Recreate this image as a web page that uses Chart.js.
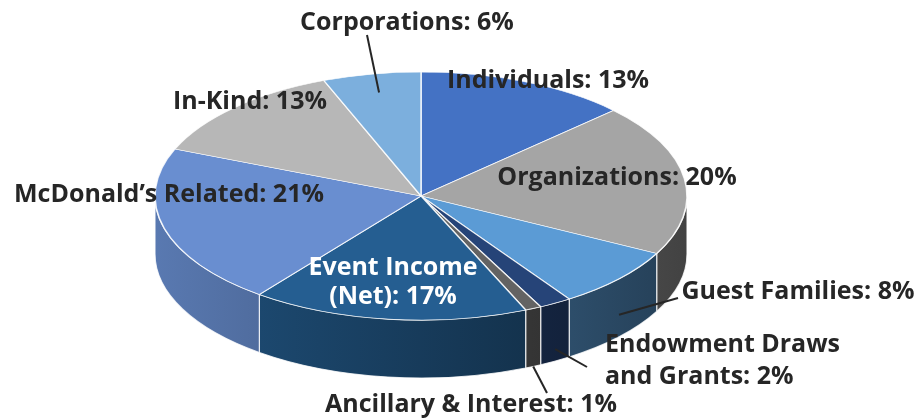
<!DOCTYPE html>
<html>
<head>
<meta charset="utf-8">
<script src="https://cdn.jsdelivr.net/npm/chart.js@4.4.1/dist/chart.umd.min.js"></script>
<style>
  html, body { margin: 0; padding: 0; background: #fff; }
  #wrap { width: 918px; height: 418px; }
</style>
</head>
<body>
<div id="wrap"><canvas id="pieChart" width="918" height="418"></canvas></div>
<script>
const categories = ["Individuals", "Organizations", "Guest Families", "Endowment Draws and Grants",
  "Ancillary & Interest", "Event Income (Net)", "McDonald\u2019s Related", "In-Kind", "Corporations"];
const shares = [13, 20, 8, 2, 1, 17, 21, 13, 6];
const sliceColors = ["#4472C4", "#A5A5A5", "#5B9BD5", "#264478", "#636363",
  "#255E91", "#698ED0", "#B7B7B7", "#7CAFDD"];

// label placement (layout only) - same order as categories
const labelLayout = [
  { x: 548, y: 81, align: "center" },
  { x: 617, y: 178, align: "center" },
  { x: 798, y: 292, align: "center", leader: [1.0, 36, 678, 298] },
  { x: 605, y: 345, align: "left", breakAt: 2, gap: 32, leader: [1.0, 46, 587, 367] },
  { x: 471, y: 405, align: "center", leader: [1.0, 58, 547, 393] },
  { x: 393, y: 268, align: "center", breakAt: 2, gap: 29, color: "#ffffff" },
  { x: 169, y: 195, align: "center" },
  { x: 250, y: 102, align: "center" },
  { x: 407, y: 23, align: "center", leader: [0.85, 0, 367, 35] }
];

const tilt = 124 / 266;
const depth = 58;
const textColor = "#262626";
const labelFont = "bold 25px 'Open Sans'";

function shade(hex, f) {
  const n = parseInt(hex.slice(1), 16);
  const r = Math.round(((n >> 16) & 255) * f);
  const g = Math.round(((n >> 8) & 255) * f);
  const b = Math.round((n & 255) * f);
  return `rgb(${r},${g},${b})`;
}

// draws the side walls, then squashes the pie into an ellipse
const pie3d = {
  id: "pie3d",
  beforeDatasetsDraw(chart) {
    const ctx = chart.ctx;
    const arcs = chart.getDatasetMeta(0).data;
    const cx = arcs[0].x, cy = arcs[0].y;
    const rx = arcs[0].outerRadius, ry = rx * tilt;
    arcs.forEach((arc, i) => {
      const a1 = Math.max(arc.startAngle, 0);
      const a2 = Math.min(arc.endAngle, Math.PI);
      if (a2 <= a1) return;
      const grad = ctx.createLinearGradient(cx - rx, 0, cx + rx, 0);
      grad.addColorStop(0, shade(sliceColors[i], 0.85));
      grad.addColorStop(1, shade(sliceColors[i], 0.4));
      ctx.beginPath();
      ctx.ellipse(cx, cy, rx, ry, 0, a1, a2);
      ctx.ellipse(cx, cy + depth, rx, ry, 0, a2, a1, true);
      ctx.closePath();
      ctx.fillStyle = grad;
      ctx.fill();
      ctx.strokeStyle = "rgba(255,255,255,0.8)";
      ctx.lineWidth = 1.2;
      ctx.stroke();
    });
    ctx.save();
    ctx.translate(cx, cy);
    ctx.scale(1, tilt);
    ctx.translate(-cx, -cy);
  },
  afterDatasetsDraw(chart) {
    chart.ctx.restore();
  }
};

const sliceLabels = {
  id: "sliceLabels",
  afterDraw(chart) {
    const ctx = chart.ctx;
    const arcs = chart.getDatasetMeta(0).data;
    const cx = arcs[0].x, cy = arcs[0].y;
    const rx = arcs[0].outerRadius, ry = rx * tilt;
    ctx.save();
    ctx.font = labelFont;
    ctx.textBaseline = "middle";
    labelLayout.forEach((lay, i) => {
      const arc = arcs[i];
      if (lay.leader) {
        const [rf, dz, ex, ey] = lay.leader;
        const mid = (arc.startAngle + arc.endAngle) / 2;
        const sx = cx + Math.cos(mid) * rx * rf;
        const sy = cy + Math.sin(mid) * ry * rf + dz;
        ctx.beginPath();
        ctx.moveTo(sx, sy);
        ctx.lineTo(ex, ey);
        ctx.strokeStyle = textColor;
        ctx.lineWidth = 2;
        ctx.stroke();
      }
      const text = `${categories[i]}: ${shares[i]}%`;
      let lines = [text];
      if (lay.breakAt) {
        const words = text.split(" ");
        lines = [words.slice(0, lay.breakAt).join(" "), words.slice(lay.breakAt).join(" ")];
      }
      ctx.fillStyle = lay.color || textColor;
      ctx.textAlign = lay.align;
      lines.forEach((ln, j) => ctx.fillText(ln, lay.x, lay.y + j * (lay.gap || 0)));
    });
    ctx.restore();
  }
};

new Chart(document.getElementById("pieChart").getContext("2d"), {
  type: "pie",
  data: {
    labels: categories,
    datasets: [
      {
        data: shares,
        backgroundColor: sliceColors,
        borderColor: "rgba(255,255,255,0.85)",
        borderWidth: 1.5,
        radius: 266
      }
    ]
  },
  options: {
    responsive: false,
    animation: false,
    layout: { padding: { left: 0, right: 76, top: 0, bottom: 26 } },
    plugins: { legend: { display: false }, tooltip: { enabled: false } }
  },
  plugins: [pie3d, sliceLabels]
});
</script>
</body>
</html>
